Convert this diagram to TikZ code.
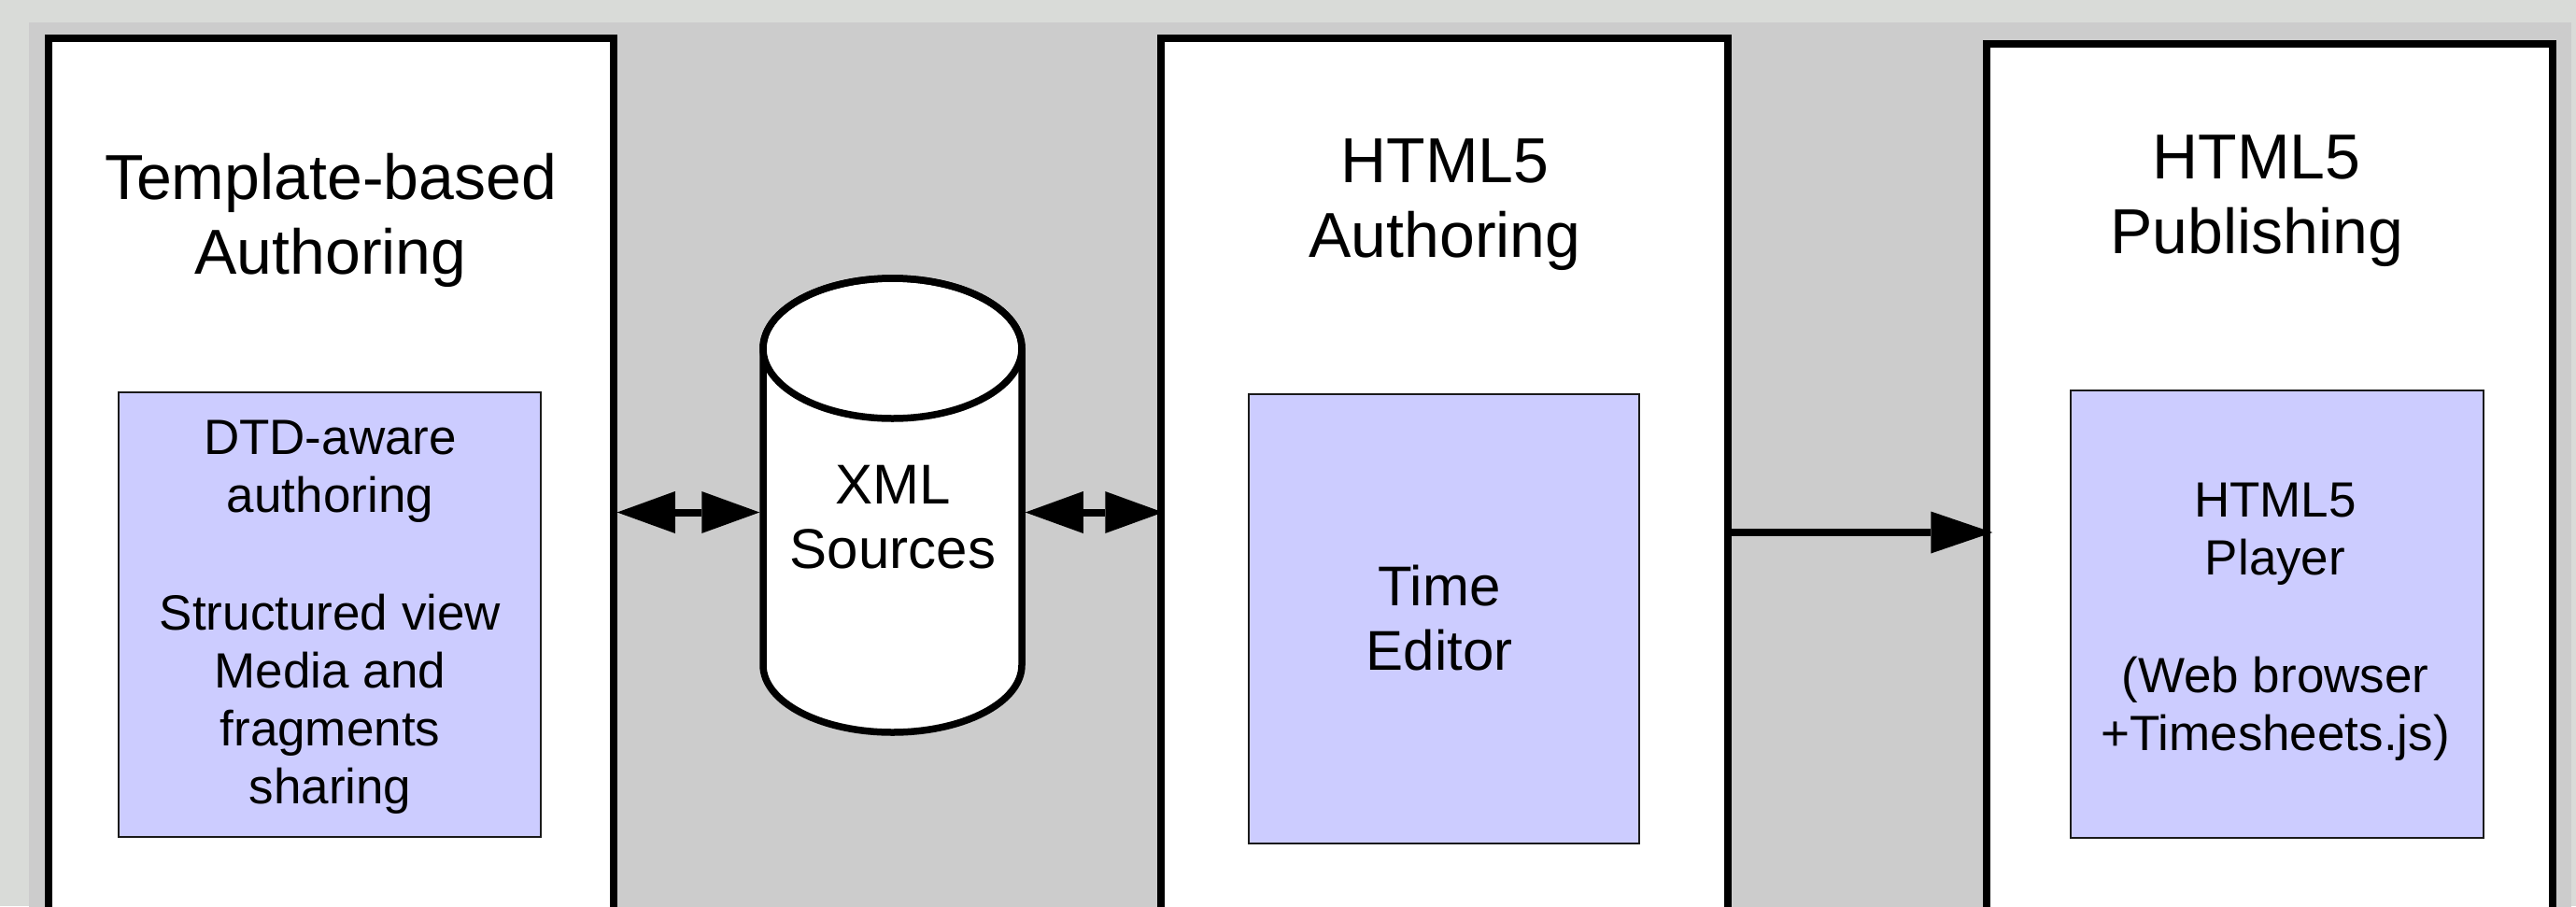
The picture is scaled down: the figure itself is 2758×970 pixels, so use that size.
\documentclass[tikz,border=0pt]{standalone}
\usepackage{fontspec}
\setmainfont{Liberation Sans}
\usetikzlibrary{arrows.meta,calc}
\definecolor{pagebg}{HTML}{D9DBD8}
\definecolor{canvas}{HTML}{CCCCCC}
\definecolor{lilac}{HTML}{CCCCFF}
\definecolor{edge}{HTML}{1A1A1A}
\tikzset{
  panel/.style={draw=black, fill=white, line width=7.5pt, inner sep=0pt},
  inbox/.style={draw=edge, fill=lilac, line width=2.5pt, inner sep=0pt},
  title/.style={align=center, inner sep=0pt, font=\fontsize{68}{80}\selectfont},
  boxtext/.style={align=center, inner sep=0pt, font=\fontsize{53}{62}\selectfont},
  bigtext/.style={align=center, inner sep=0pt, font=\fontsize{60}{69}\selectfont},
  arr/.style={line width=8pt, -{Triangle[length=66pt,width=45pt,line width=0pt]}},
  dbl/.style={line width=8pt, {Triangle[length=62pt,width=45pt,line width=0pt]}-{Triangle[length=62pt,width=45pt,line width=0pt]}},
  store/.style={line width=7.5pt, draw=black, fill=white},
}
\begin{document}
\begin{tikzpicture}[x=1pt,y=1pt]
\useasboundingbox (0,0) rectangle (2758,-970);
\fill[pagebg] (0,0) rectangle (2758,-970);
\clip (0,0) rectangle (2758,-970);
\fill[canvas] (31,-24) rectangle (2753,-990);

% three stage panels (running off the bottom edge)
\node[panel, minimum width=605pt, minimum height=1018pt] (tba) at (354.5,-550) {};
\node[panel, minimum width=607pt, minimum height=1059pt] (auth) at (1546.5,-570.5) {};
\node[panel, minimum width=606pt, minimum height=1053pt] (pub) at (2430,-573.5) {};

% panel titles
\node[title] (tbaT) at (354,-235.5) {Template-based\\Authoring};
\node[title] (authT) at (1547,-219.5) {HTML5\\Authoring};
\node[title] (pubT) at (2416,-215) {HTML5\\Publishing};

% tool boxes
\node[inbox, minimum width=452pt, minimum height=476pt] (dtd) at (353,-658) {};
\node[boxtext] (dtdT) at (353.5,-660.5) {DTD-aware\\authoring\\[64pt]Structured view\\Media and\\fragments\\sharing};

\node[inbox, minimum width=418pt, minimum height=481pt] (ted) at (1546,-662.5) {};
\node[bigtext] (tedT) at (1541,-662) {Time\\Editor};

\node[inbox, minimum width=442pt, minimum height=479pt] (player) at (2438,-657.5) {};
\node[boxtext] (playerT) at (2436,-665.5) {HTML5\\Player\\[64pt](Web browser\\+Timesheets.js)};

% XML store drawn as a cylinder
\path[store] (817,-373) -- (817,-712)
  arc[start angle=180, end angle=360, x radius=138.5pt, y radius=72pt]
  -- (1094,-373)
  arc[start angle=0, end angle=180, x radius=138.5pt, y radius=75pt] -- cycle;
\draw[line width=7.5pt] (955.5,-373) ellipse[x radius=138.5pt, y radius=75pt];
\node[inner sep=0pt, outer sep=0pt, minimum width=284.5pt, minimum height=340pt] (xml) at (955.5,-548.5) {};
\node[bigtext] (xmlT) at (956,-554) {XML\\Sources};

% connectors
\coordinate (pubrow) at (0,-570);
\draw[dbl] (tba.east |- xml.west) -- (xml.west);
\draw[dbl, shorten >=-6pt] (xml.east) -- (auth.west |- xml.east);
\draw[arr, shorten >=-10pt] (auth.east |- pubrow) -- (pub.west |- pubrow);
\end{tikzpicture}
\end{document}
